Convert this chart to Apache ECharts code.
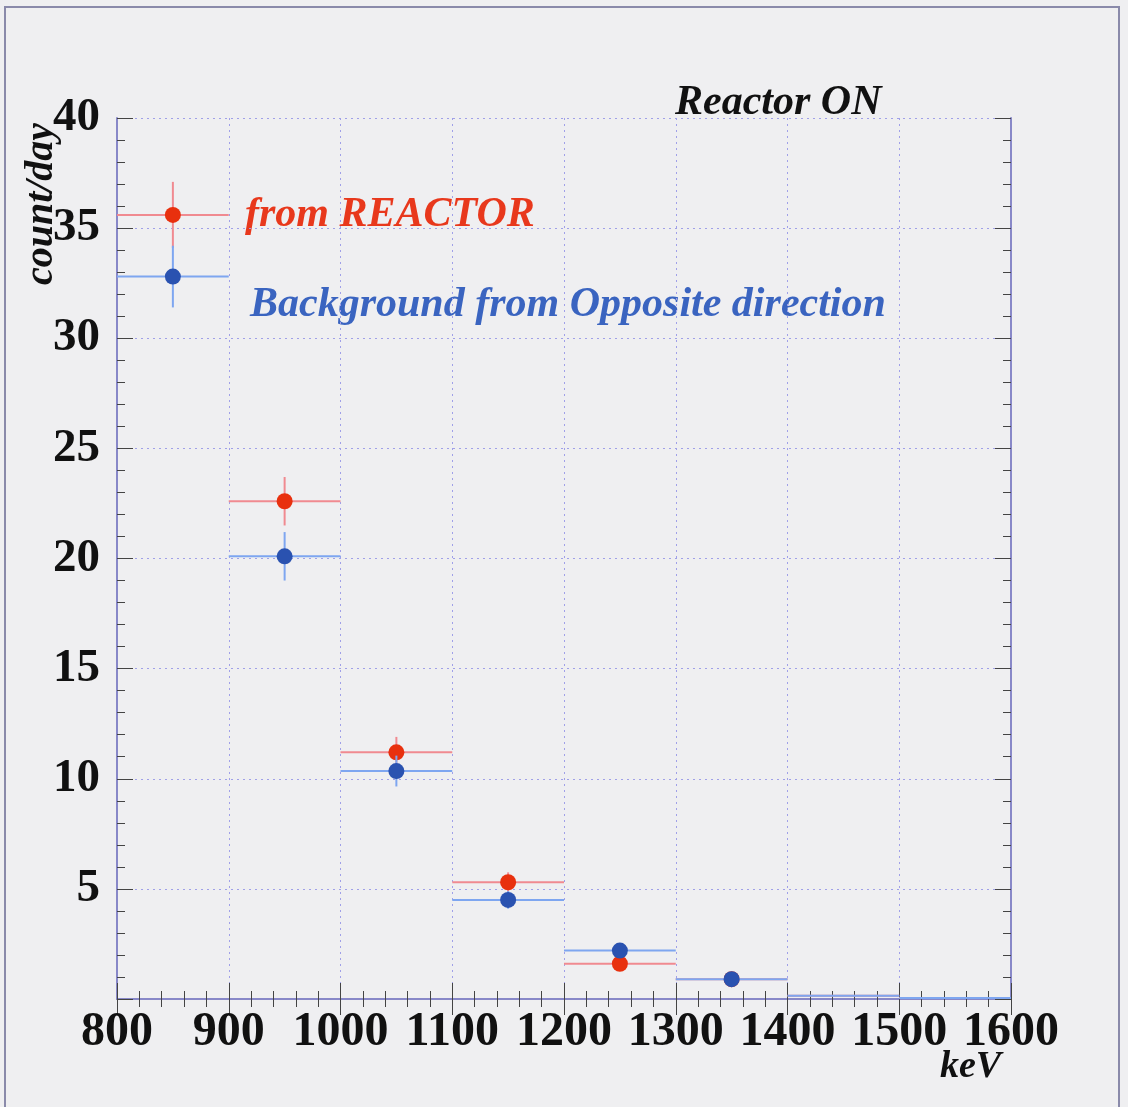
<!DOCTYPE html>
<html>
<head>
<meta charset="utf-8">
<script src="https://cdn.jsdelivr.net/npm/echarts@6/dist/echarts.min.js"></script>
<style>
  html, body { margin: 0; padding: 0; background: #efeff1; }
  #main { width: 1128px; height: 1107px; }
</style>
</head>
<body>
<div id="main"></div>
<script>
// 能量分箱 (keV)
var binLow = [800, 900, 1000, 1100, 1200, 1300, 1400, 1500];
var binWidth = 100;
// 反应堆方向
var reactor = [35.6, 22.6, 11.2, 5.3, 1.6, 0.9, 0.15, 0.05];
var reactorErr = [1.5, 1.1, 0.7, 0.45, 0.3, 0.25, 0, 0];
// 反方向本底
var background = [32.8, 20.1, 10.35, 4.5, 2.2, 0.9, 0.15, 0.05];
var backgroundErr = [1.4, 1.1, 0.7, 0.4, 0.3, 0.25, 0, 0];
// 刻度
var xTicks = [800, 900, 1000, 1100, 1200, 1300, 1400, 1500, 1600];
var yTicks = [5, 10, 15, 20, 25, 30, 35, 40];

(function() {
	var myChart = echarts.init(document.getElementById('main'));
	var serif = '"Liberation Serif", "DejaVu Serif", serif';

	function buildData(vals, errs) {
		return vals.map(function(v, i) {
			return [binLow[i], binLow[i] + binWidth, v, errs[i]];
		});
	}

	// 误差棒 + 点
	function makeRender(lineColor, dotColor) {
		return function(params, api) {
			var lo = api.coord([api.value(0), api.value(2)]);
			var hi = api.coord([api.value(1), api.value(2)]);
			var mid = api.coord([(api.value(0) + api.value(1)) / 2, api.value(2)]);
			var err = api.value(3);
			var children = [{
				type: 'line',
				shape: { x1: lo[0], y1: lo[1], x2: hi[0], y2: hi[1] },
				style: { stroke: lineColor, lineWidth: 2 }
			}];
			if (err > 0) {
				var top = api.coord([0, api.value(2) + err]);
				var bot = api.coord([0, api.value(2) - err]);
				children.push({
					type: 'line',
					shape: { x1: mid[0], y1: top[1], x2: mid[0], y2: bot[1] },
					style: { stroke: lineColor, lineWidth: 2 }
				});
			}
			if (api.value(2) > 0.3) {
				children.push({
					type: 'circle',
					shape: { cx: mid[0], cy: mid[1], r: 8 },
					style: { fill: dotColor }
				});
			}
			return { type: 'group', children: children };
		};
	}

	var tickStyle = { color: '#444', width: 1 };
	var option = {
		backgroundColor: '#efeff1',
		animation: false,
		grid: { left: 117, top: 118, width: 894, height: 881 },
		xAxis: [{
			type: 'value',
			min: 800, max: 1600, interval: 100,
			axisLine: { show: true, onZero: false, lineStyle: { color: '#8888c8', width: 2 } },
			axisTick: { show: true, inside: true, length: 16, lineStyle: tickStyle },
			minorTick: { show: true, splitNumber: 5, length: 8, lineStyle: tickStyle },
			axisLabel: {
				color: '#111', fontFamily: serif, fontWeight: 'bold', fontSize: 48, margin: 10,
				formatter: function(v) { return xTicks.indexOf(v) >= 0 ? String(v) : ''; }
			},
			splitLine: { show: true, lineStyle: { color: '#a0a0e8', type: [2, 4], width: 1 } }
		}, {
			type: 'value', position: 'top',
			min: 800, max: 1600, interval: 100,
			axisLine: { show: true, lineStyle: { color: '#8888c8', width: 2 } },
			axisTick: { show: true, inside: true, length: 16, lineStyle: tickStyle },
			minorTick: { show: true, splitNumber: 5, length: 8, lineStyle: tickStyle },
			axisLabel: { show: false },
			splitLine: { show: false }
		}],
		yAxis: [{
			type: 'value',
			min: 0, max: 40, interval: 5,
			axisLine: { show: true, onZero: false, lineStyle: { color: '#8888c8', width: 2 } },
			axisTick: { show: true, inside: true, length: 16, lineStyle: tickStyle },
			minorTick: { show: true, splitNumber: 5, length: 8, lineStyle: tickStyle },
			axisLabel: {
				color: '#111', fontFamily: serif, fontWeight: 'bold', fontSize: 47, margin: 17,
				formatter: function(v) { return yTicks.indexOf(v) >= 0 ? String(v) : ''; }
			},
			splitLine: { show: true, lineStyle: { color: '#a0a0e8', type: [2, 4], width: 1 } }
		}, {
			type: 'value', position: 'right',
			min: 0, max: 40, interval: 5,
			axisLine: { show: true, lineStyle: { color: '#8888c8', width: 2 } },
			axisTick: { show: true, inside: true, length: 16, lineStyle: tickStyle },
			minorTick: { show: true, splitNumber: 5, length: 8, lineStyle: tickStyle },
			axisLabel: { show: false },
			splitLine: { show: false }
		}],
		graphic: [{
			type: 'rect',
			shape: { x: 5, y: 7, width: 1114, height: 1120 },
			style: { fill: 'none', stroke: '#8a8aaa', lineWidth: 2 },
			silent: true
		}, {
			type: 'text', left: 675, top: 82,
			style: { text: 'Reactor ON', fill: '#111', font: 'italic bold 42px ' + serif }
		}, {
			type: 'text', left: 245, top: 194,
			style: { text: 'from REACTOR', fill: '#e8381c', font: 'italic bold 42px ' + serif }
		}, {
			type: 'text', left: 250, top: 284,
			style: { text: 'Background from Opposite direction', fill: '#3a64c0', font: 'italic bold 42px ' + serif }
		}, {
			type: 'text', left: 940, top: 1048,
			style: { text: 'keV', fill: '#111', font: 'italic bold 38px ' + serif }
		}, {
			type: 'text', x: 42, y: 204, rotation: Math.PI / 2,
			style: { text: 'count/day', fill: '#111', font: 'italic bold 40px ' + serif, align: 'center', verticalAlign: 'middle' }
		}],
		series: [{
			name: 'from REACTOR',
			type: 'custom',
			renderItem: makeRender('#f08a90', '#e8300e'),
			encode: { x: [0, 1], y: 2 },
			data: buildData(reactor, reactorErr),
			z: 3
		}, {
			name: 'Background from Opposite direction',
			type: 'custom',
			renderItem: makeRender('#7ea6f0', '#2a52b0'),
			encode: { x: [0, 1], y: 2 },
			data: buildData(background, backgroundErr),
			z: 4
		}]
	};
	myChart.setOption(option);
})();
</script>
</body>
</html>
